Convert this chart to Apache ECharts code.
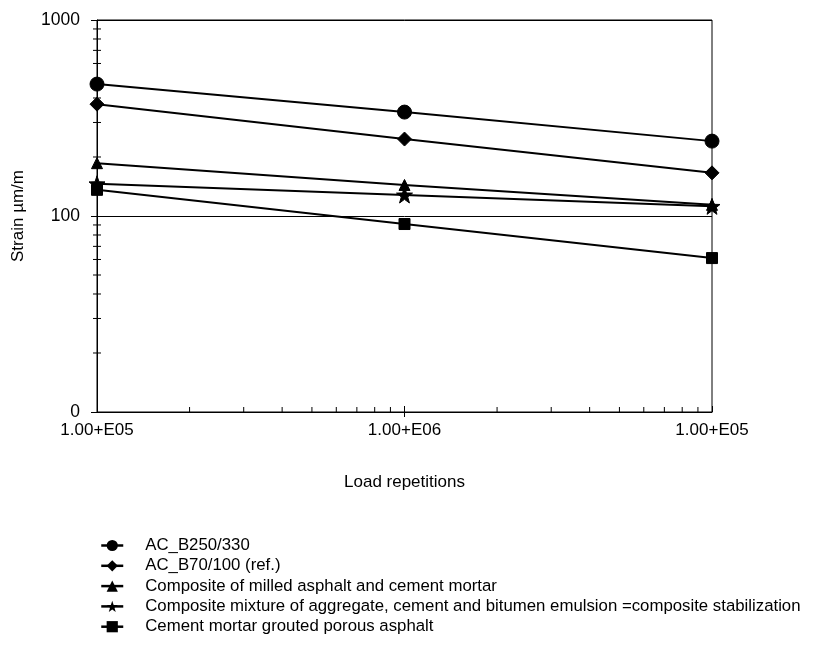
<!DOCTYPE html>
<html><head><meta charset="utf-8">
<script src="https://cdn.jsdelivr.net/npm/echarts@6/dist/echarts.min.js"></script>
<style>html,body{margin:0;padding:0;background:#fff}#c{width:814px;height:650px}</style>
</head><body><div id="c"></div>
<script>
const xValues = [1e5, 1e6, 1e7];
const xTickLabels = {1e5: '1.00+E05', 1e6: '1.00+E06', 1e7: '1.00+E05'};
const yTickLabels = {10: '0', 100: '100', 1000: '1000'};
const seriesNames = [
  'AC_B250/330',
  'AC_B70/100 (ref.)',
  'Composite of milled asphalt and cement mortar',
  'Composite mixture of aggregate, cement and bitumen emulsion =composite stabilization',
  'Cement mortar grouted porous asphalt'
];
const acB250 = [471, 339, 241];
const acB70 = [372, 247, 166];
const milledComposite = [186, 144, 114];
const stabilization = [146, 128, 112];
const groutedPorous = [136, 91, 61];
const yMinorValues = [20,30,40,50,60,70,80,90,200,300,400,500,600,700,800,900];
const xMinorValues = [2e5,3e5,4e5,5e5,6e5,7e5,8e5,9e5,2e6,3e6,4e6,5e6,6e6,7e6,8e6,9e6];

const star = 'path://M0,-10 L2.35,-3.24 L9.51,-3.09 L3.8,1.24 L5.88,8.09 L0,4 L-5.88,8.09 L-3.8,1.24 L-9.51,-3.09 L-2.35,-3.24 Z';
const symbols = ['circle', 'diamond', 'triangle', star, 'rect'];
const sizes = [14, 14, 11, 16, 11];
const allData = [acB250, acB70, milledComposite, stabilization, groutedPorous];
const FONT = 'Liberation Sans, Arial, sans-serif';

const chart = echarts.init(document.getElementById('c'), null, {renderer: 'canvas'});
const option = {
  animation: false,
  backgroundColor: '#fff',
  grid: {left: 97, right: 102, top: 20, bottom: 238, show: true, borderColor: '#000', borderWidth: 1, backgroundColor: 'transparent'},
  legend: {
    orient: 'vertical', left: 95, top: 532, height: 115, itemGap: 3.3, itemWidth: 22, itemHeight: 14,
    lineStyle: {width: 2.5},
    textStyle: {fontFamily: FONT, fontSize: 16.8, color: '#000', padding: [0, 0, 0, 17]},
    data: seriesNames
  },
  xAxis: {
    type: 'log', logBase: 10, min: 1e5, max: 1e7,
    name: 'Load repetitions', nameLocation: 'middle', nameGap: 62,
    nameTextStyle: {fontFamily: FONT, fontSize: 17, color: '#000'},
    axisLine: {lineStyle: {color: '#000', width: 1}},
    axisTick: {show: true, inside: true, length: 6, lineStyle: {color: '#000'}},
    axisLabel: {fontFamily: FONT, fontSize: 17, color: '#000', margin: 10, formatter: v => xTickLabels[Math.round(v)] || ''},
    splitLine: {show: false}
  },
  yAxis: {
    type: 'log', logBase: 10, min: 10, max: 1000,
    name: 'Strain µm/m', nameLocation: 'middle', nameGap: 70,
    nameTextStyle: {fontFamily: FONT, fontSize: 17, color: '#000'},
    axisLine: {lineStyle: {color: '#000', width: 1}},
    axisTick: {show: true, inside: false, length: 6, lineStyle: {color: '#000'}},
    axisLabel: {fontFamily: FONT, fontSize: 17.5, color: '#000', margin: 17, formatter: v => yTickLabels[Math.round(v)] || ''},
    splitLine: {show: true, lineStyle: {color: '#000', width: 1}}
  },
  series: seriesNames.map((name, i) => ({
    name, type: 'line',
    data: xValues.map((x, j) => [x, allData[i][j]]),
    symbol: symbols[i], symbolSize: sizes[i], showAllSymbol: true,
    lineStyle: {color: '#000', width: 2},
    itemStyle: {color: '#000', borderColor: '#000'},
    z: 3
  }))
};
chart.setOption(option);

// minor ticks positioned through the chart's own log scales
const g = [];
yMinorValues.forEach(v => {
  const p = chart.convertToPixel({yAxisIndex: 0}, v);
  const x0 = chart.convertToPixel({xAxisIndex: 0}, 1e5);
  g.push({type: 'line', shape: {x1: x0 - 4, y1: p, x2: x0 + 4, y2: p}, style: {stroke: '#000', lineWidth: 1}, silent: true});
});
xMinorValues.forEach(v => {
  const p = chart.convertToPixel({xAxisIndex: 0}, v);
  const y0 = chart.convertToPixel({yAxisIndex: 0}, 10);
  g.push({type: 'line', shape: {x1: p, y1: y0, x2: p, y2: y0 - 5}, style: {stroke: '#000', lineWidth: 1}, silent: true});
});
const xm = chart.convertToPixel({xAxisIndex: 0}, 1e6);
const ym = chart.convertToPixel({yAxisIndex: 0}, 10);
g.push({type: 'line', shape: {x1: xm, y1: ym, x2: xm, y2: ym + 5}, style: {stroke: '#000', lineWidth: 1}, silent: true});
chart.setOption({graphic: g});
</script>
</body></html>
